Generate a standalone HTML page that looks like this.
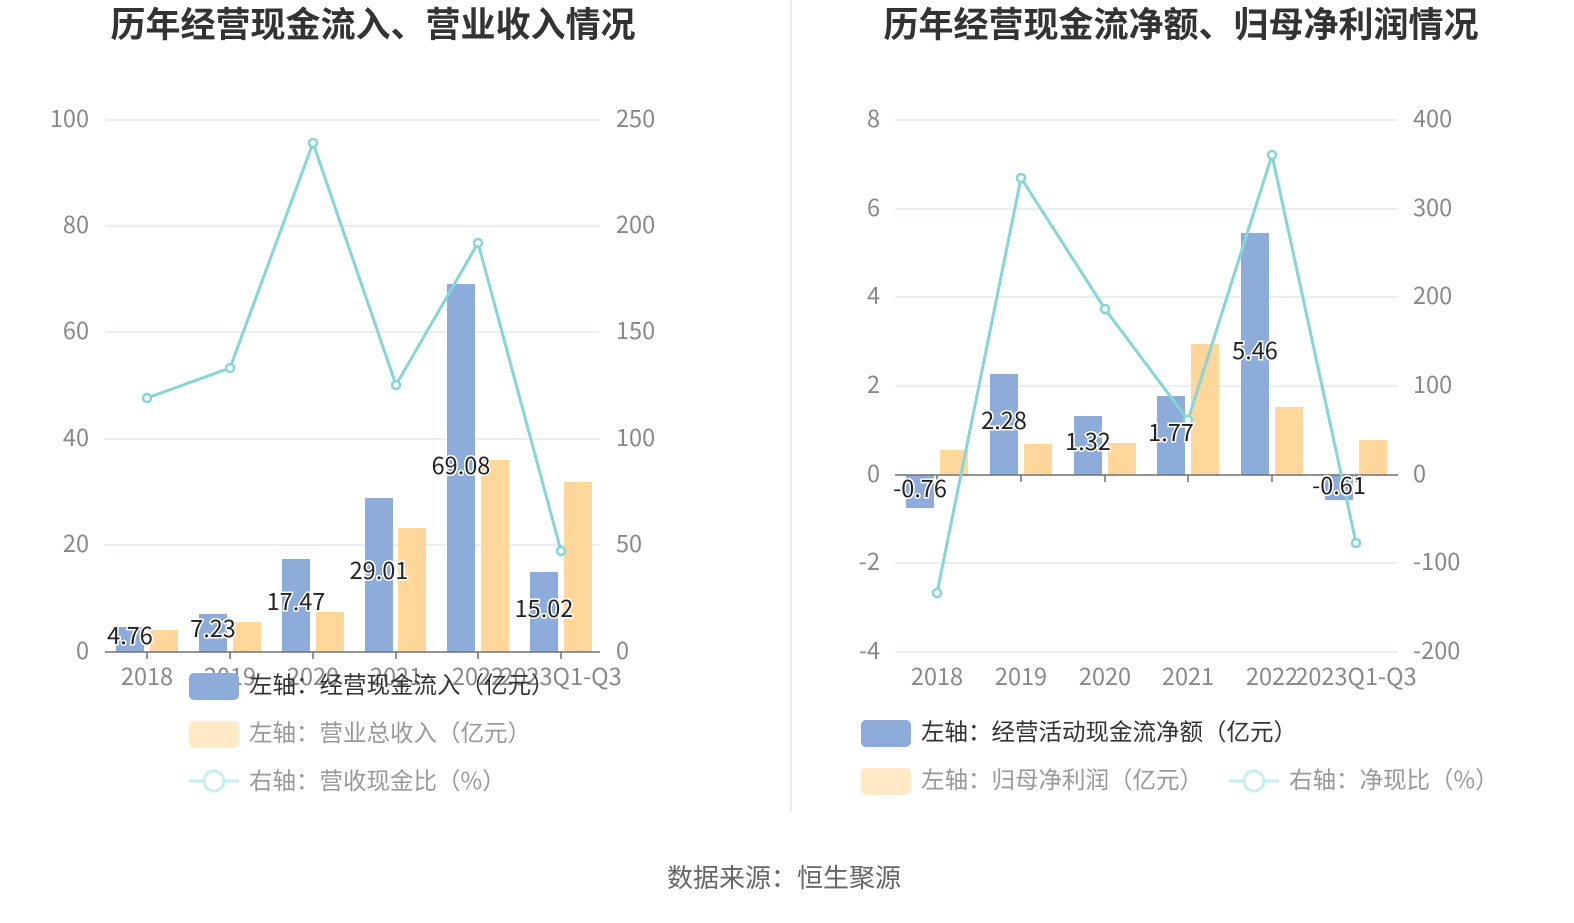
<!DOCTYPE html>
<html><head><meta charset="utf-8"><style>
body{margin:0;background:#fff;}
svg text{font-family:"Noto Sans CJK SC","Liberation Sans",sans-serif;}
</style></head><body>
<svg width="1574" height="918" viewBox="0 0 1574 918" xmlns="http://www.w3.org/2000/svg">
<rect width="1574" height="918" fill="#fff"/>
<line x1="791" y1="0" x2="791" y2="812" stroke="#e6e6e6" stroke-width="1.5"/>
<text x="373" y="37" text-anchor="middle" font-size="35" font-weight="bold" fill="#333">历年经营现金流入、营业收入情况</text>
<text x="1181" y="37" text-anchor="middle" font-size="35" font-weight="bold" fill="#333">历年经营现金流净额、归母净利润情况</text>

<!-- LEFT CHART -->
<g stroke="#dfe4ee" stroke-width="1.2">
<line x1="105" y1="120" x2="600" y2="120"/><line x1="105" y1="226" x2="600" y2="226"/>
<line x1="105" y1="332" x2="600" y2="332"/><line x1="105" y1="439" x2="600" y2="439"/>
<line x1="105" y1="545" x2="600" y2="545"/>
</g>
<g font-size="23.5" fill="#888">
<g text-anchor="end">
<text x="89" y="127">100</text><text x="89" y="233">80</text><text x="89" y="339">60</text>
<text x="89" y="446">40</text><text x="89" y="552">20</text><text x="89" y="659">0</text>
</g>
<g text-anchor="start">
<text x="616" y="127">250</text><text x="616" y="233">200</text><text x="616" y="339">150</text>
<text x="616" y="446">100</text><text x="616" y="552">50</text><text x="616" y="659">0</text>
</g>
<g text-anchor="middle">
<text x="147" y="685">2018</text><text x="230" y="685">2019</text><text x="313" y="685">2020</text>
<text x="396" y="685">2021</text><text x="478" y="685">2022</text><text x="561" y="685">2023Q1-Q3</text>
</g>
</g>
<g fill="#8dacda">
<rect x="116" y="627" width="28" height="25"/>
<rect x="199" y="614" width="28" height="38"/>
<rect x="282" y="559" width="28" height="93"/>
<rect x="365" y="498" width="28" height="154"/>
<rect x="447" y="284" width="28" height="368"/>
<rect x="530" y="572" width="28" height="80"/>
</g>
<g fill="#ffd79a">
<rect x="150" y="630" width="28" height="22"/>
<rect x="233" y="622" width="28" height="30"/>
<rect x="316" y="612" width="28" height="40"/>
<rect x="398" y="528" width="28" height="124"/>
<rect x="481" y="460" width="28" height="192"/>
<rect x="564" y="482" width="28" height="170"/>
</g>
<line x1="105" y1="652" x2="600" y2="652" stroke="#6e7079" stroke-width="1.5"/>
<g stroke="#6e7079" stroke-width="1.5">
<line x1="147" y1="652" x2="147" y2="659"/><line x1="230" y1="652" x2="230" y2="659"/><line x1="313" y1="652" x2="313" y2="659"/>
<line x1="396" y1="652" x2="396" y2="659"/><line x1="478" y1="652" x2="478" y2="659"/><line x1="561" y1="652" x2="561" y2="659"/>
</g>
<polyline points="147,398 230,368 313,143 396,385 478,243 561,551" fill="none" stroke="#86d6d8" stroke-width="3"/>
<g fill="#fff" stroke="#86d6d8" stroke-width="2.5">
<circle cx="147" cy="398" r="4"/><circle cx="230" cy="368" r="4"/><circle cx="313" cy="143" r="4"/>
<circle cx="396" cy="385" r="4"/><circle cx="478" cy="243" r="4"/><circle cx="561" cy="551" r="4"/>
</g>
<g font-size="23.5" fill="#222" text-anchor="middle" stroke="#fff" stroke-width="3" paint-order="stroke">
<text x="130" y="644">4.76</text><text x="213" y="637">7.23</text><text x="296" y="610">17.47</text>
<text x="379" y="579">29.01</text><text x="461" y="474">69.08</text><text x="544" y="617">15.02</text>
</g>
<rect x="189" y="673" width="50" height="27" rx="5" fill="#8dacda"/>
<text x="249" y="693" font-size="23.5" fill="#333">左轴：经营现金流入（亿元）</text>
<rect x="189" y="721" width="50" height="27" rx="5" fill="#ffe9c6"/>
<text x="249" y="741" font-size="23.5" fill="#999">左轴：营业总收入（亿元）</text>
<line x1="189" y1="781" x2="239" y2="781" stroke="#c6eeee" stroke-width="3"/>
<circle cx="214" cy="781" r="10" fill="#fff" stroke="#c6eeee" stroke-width="3"/>
<text x="249" y="789" font-size="23.5" fill="#999">右轴：营收现金比（%）</text>

<!-- RIGHT CHART -->
<g stroke="#dfe4ee" stroke-width="1.2">
<line x1="895" y1="120" x2="1398" y2="120"/><line x1="895" y1="209" x2="1398" y2="209"/>
<line x1="895" y1="297" x2="1398" y2="297"/><line x1="895" y1="386" x2="1398" y2="386"/>
<line x1="895" y1="563" x2="1398" y2="563"/><line x1="895" y1="652" x2="1398" y2="652"/>
</g>
<g font-size="23.5" fill="#888">
<g text-anchor="end">
<text x="880" y="127">8</text><text x="880" y="216">6</text><text x="880" y="304">4</text>
<text x="880" y="393">2</text><text x="880" y="482">0</text><text x="880" y="570">-2</text><text x="880" y="659">-4</text>
</g>
<g text-anchor="start">
<text x="1413" y="127">400</text><text x="1413" y="216">300</text><text x="1413" y="304">200</text>
<text x="1413" y="393">100</text><text x="1413" y="482">0</text><text x="1413" y="570">-100</text><text x="1413" y="659">-200</text>
</g>
<g text-anchor="middle">
<text x="937" y="685">2018</text><text x="1021" y="685">2019</text><text x="1105" y="685">2020</text>
<text x="1188" y="685">2021</text><text x="1272" y="685">2022</text><text x="1356" y="685">2023Q1-Q3</text>
</g>
</g>
<g fill="#8dacda">
<rect x="906" y="475" width="28" height="33"/>
<rect x="990" y="374" width="28" height="101"/>
<rect x="1074" y="416" width="28" height="59"/>
<rect x="1157" y="396" width="28" height="79"/>
<rect x="1241" y="233" width="28" height="242"/>
<rect x="1325" y="475" width="28" height="25"/>
</g>
<g fill="#ffd79a">
<rect x="940" y="450" width="28" height="25"/>
<rect x="1024" y="444" width="28" height="31"/>
<rect x="1108" y="443" width="28" height="32"/>
<rect x="1191" y="344" width="28" height="131"/>
<rect x="1275" y="407" width="28" height="68"/>
<rect x="1359" y="440" width="28" height="35"/>
</g>
<line x1="895" y1="475" x2="1398" y2="475" stroke="#6e7079" stroke-width="1.5"/>
<g stroke="#6e7079" stroke-width="1.5">
<line x1="937" y1="475" x2="937" y2="482"/><line x1="1021" y1="475" x2="1021" y2="482"/><line x1="1105" y1="475" x2="1105" y2="482"/>
<line x1="1188" y1="475" x2="1188" y2="482"/><line x1="1272" y1="475" x2="1272" y2="482"/><line x1="1356" y1="475" x2="1356" y2="482"/>
</g>
<polyline points="937,593 1021,178 1105,309 1188,420 1272,155 1356,543" fill="none" stroke="#86d6d8" stroke-width="3"/>
<g fill="#fff" stroke="#86d6d8" stroke-width="2.5">
<circle cx="937" cy="593" r="4"/><circle cx="1021" cy="178" r="4"/><circle cx="1105" cy="309" r="4"/>
<circle cx="1188" cy="420" r="4"/><circle cx="1272" cy="155" r="4"/><circle cx="1356" cy="543" r="4"/>
</g>
<g font-size="23.5" fill="#222" text-anchor="middle" stroke="#fff" stroke-width="3" paint-order="stroke">
<text x="920" y="497">-0.76</text><text x="1004" y="429">2.28</text><text x="1088" y="450">1.32</text>
<text x="1171" y="441">1.77</text><text x="1255" y="359">5.46</text><text x="1339" y="494">-0.61</text>
</g>
<rect x="861" y="720" width="50" height="27" rx="5" fill="#8dacda"/>
<text x="921" y="740" font-size="23.5" fill="#333">左轴：经营活动现金流净额（亿元）</text>
<rect x="861" y="768" width="50" height="27" rx="5" fill="#ffe9c6"/>
<text x="921" y="788" font-size="23.5" fill="#999">左轴：归母净利润（亿元）</text>
<line x1="1229" y1="781" x2="1279" y2="781" stroke="#c6eeee" stroke-width="3"/>
<circle cx="1254" cy="781" r="10" fill="#fff" stroke="#c6eeee" stroke-width="3"/>
<text x="1289" y="788" font-size="23.5" fill="#999">右轴：净现比（%）</text>

<text x="784" y="887" text-anchor="middle" font-size="26" fill="#666">数据来源：恒生聚源</text>
</svg>
</body></html>
